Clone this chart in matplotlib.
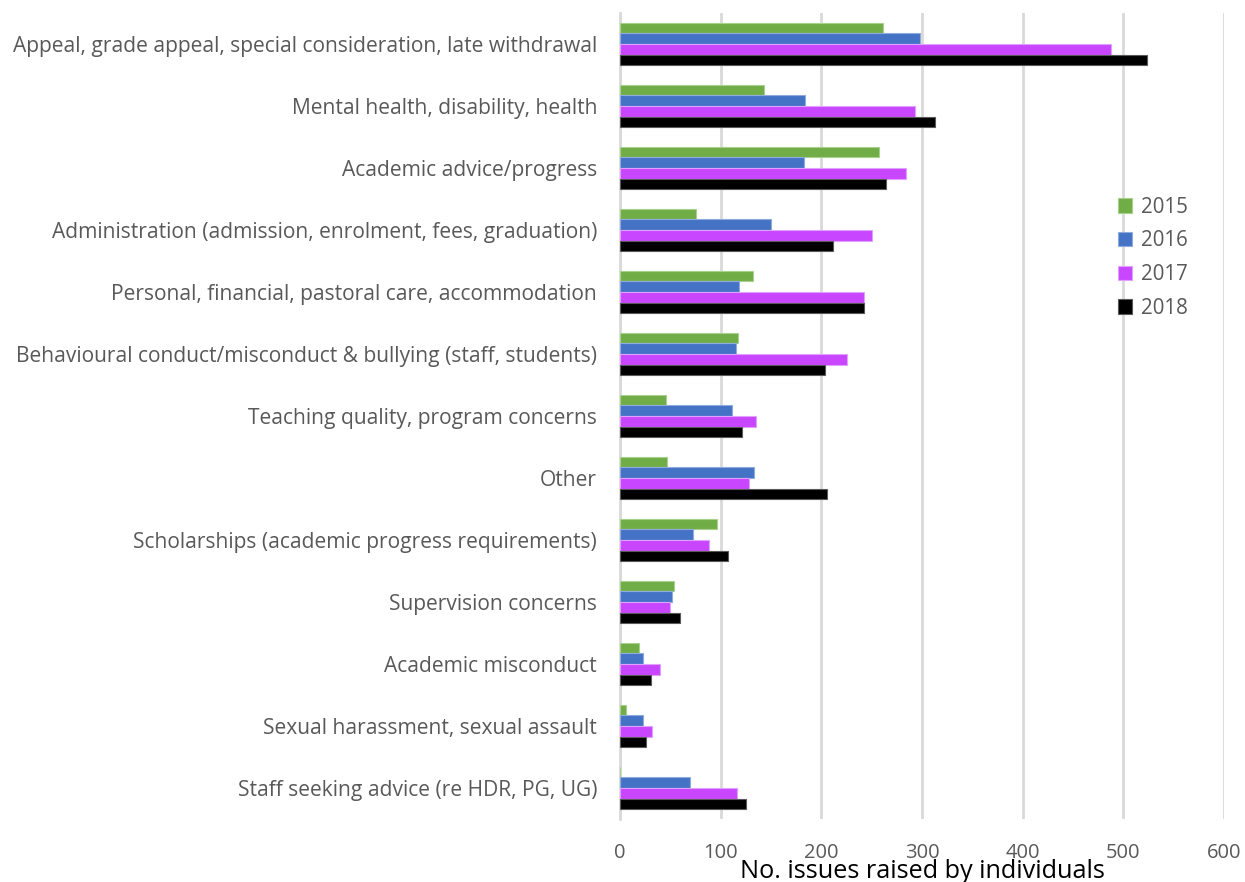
import matplotlib
matplotlib.use("Agg")
import matplotlib.pyplot as plt
import numpy as np

categories = [
    "Appeal, grade appeal, special consideration, late withdrawal",
    "Mental health, disability, health",
    "Academic advice/progress",
    "Administration (admission, enrolment, fees, graduation)",
    "Personal, financial, pastoral care, accommodation",
    "Behavioural conduct/misconduct & bullying (staff, students)",
    "Teaching quality, program concerns",
    "Other",
    "Scholarships (academic progress requirements)",
    "Supervision concerns",
    "Academic misconduct",
    "Sexual harassment, sexual assault",
    "Staff seeking advice (re HDR, PG, UG)",
]
years = ["2015", "2016", "2017", "2018"]
v2015 = [261, 143, 257, 75, 132, 117, 46, 47, 96, 54, 19, 6, 0]
v2016 = [298, 184, 183, 150, 118, 115, 111, 133, 73, 52, 23, 23, 70]
v2017 = [488, 293, 284, 250, 242, 225, 135, 128, 88, 50, 40, 32, 116]
v2018 = [524, 313, 264, 212, 242, 204, 121, 206, 107, 60, 31, 26, 125]
xticks = [0, 100, 200, 300, 400, 500, 600]

series = [v2015, v2016, v2017, v2018]
colors = ["#70AD47", "#4472C4", "#C846FF", "#000000"]
edges = ["#A9D18E", "#8FAADC", "#E0A0FF", "#595959"]

plt.rcParams["font.family"] = ["Open Sans", "DejaVu Sans"]

W, H = 1245, 882
fig = plt.figure(figsize=(W / 100, H / 100), dpi=100)
ax = fig.add_axes([620 / W, 1 - 819 / H, (1224 - 620) / W, (819 - 13) / H])

n = len(categories)
y = np.arange(n)
bh = 0.17
offsets = (np.arange(4) - 1.5) * bh
for vals, col, ec, off, yr in zip(series, colors, edges, offsets, years):
    ax.barh(y + off, vals, height=bh, color=col, edgecolor=ec, linewidth=0.8,
            label=yr, zorder=3)

ax.set_ylim(n - 0.5, -0.5)
ax.set_xlim(0, 600)
ax.set_xticks(xticks)
ax.set_xticklabels([str(t) for t in xticks])
ax.set_yticks(y)
ax.set_yticklabels(categories)
ax.tick_params(axis="both", length=0, colors="#595959")
ax.tick_params(axis="y", pad=16.5, labelsize=15.1)
ax.tick_params(axis="x", pad=17.5, labelsize=14.5)
ax.grid(axis="x", color="#D9D9D9", linewidth=2, zorder=0)
for s in ["top", "right", "bottom"]:
    ax.spines[s].set_visible(False)
ax.spines["left"].set_color("#D9D9D9")
ax.spines["left"].set_linewidth(2)

leg = ax.legend(loc="upper left", bbox_to_anchor=(0.807, 0.785), frameon=False,
                fontsize=14.8, handlelength=0.7, handleheight=0.7,
                handletextpad=0.45, labelspacing=0.62, borderpad=0)
for t in leg.get_texts():
    t.set_color("#595959")

fig.text(922 / W, 1 - 878 / H, "No. issues raised by individuals",
         ha="center", va="baseline", fontsize=18.2, color="black")

fig.savefig("out.png", dpi=100)
